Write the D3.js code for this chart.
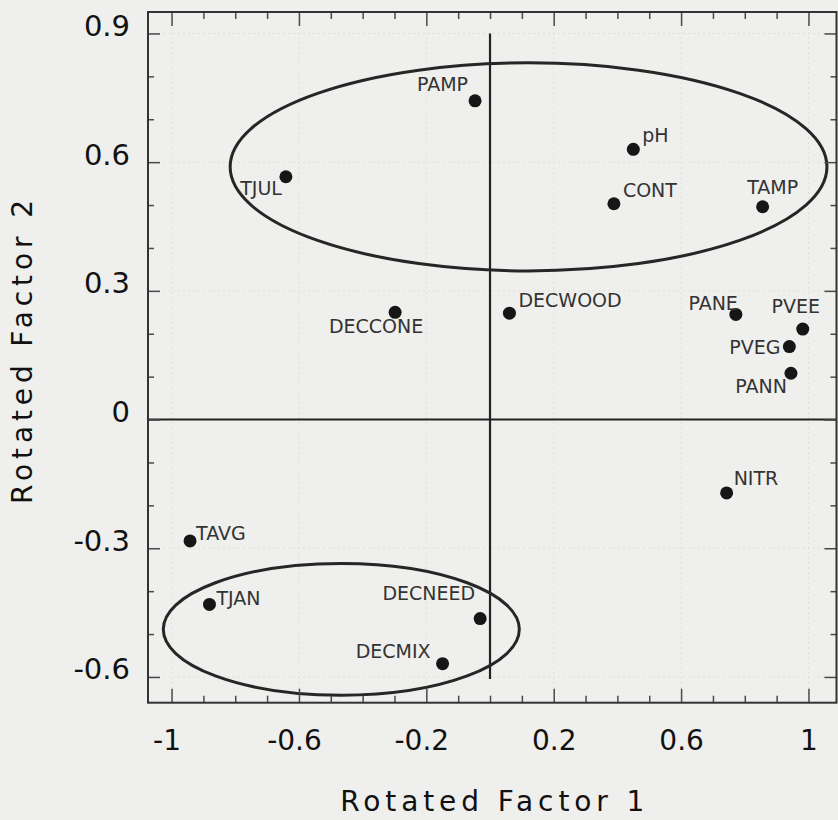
<!DOCTYPE html>
<html>
<head>
<meta charset="utf-8">
<script src="https://cdn.jsdelivr.net/npm/d3@7"></script>
<style>
  html, body { margin: 0; padding: 0; background: #efefed; }
  svg { display: block; }
</style>
</head>
<body>
<svg id="chart" width="838" height="820"></svg>
<script>
// Loadings of each variable on the two rotated factors
const variables = ["PAMP", "pH", "TJUL", "CONT", "TAMP", "DECCONE", "DECWOOD", "PANE",
                   "PVEE", "PVEG", "PANN", "NITR", "TAVG", "TJAN", "DECNEED", "DECMIX"];
const factor1 = [-0.047, 0.450, -0.641, 0.389, 0.856, -0.298, 0.061, 0.772,
                 0.982, 0.940, 0.945, 0.743, -0.942, -0.881, -0.031, -0.149];
const factor2 = [0.743, 0.630, 0.566, 0.503, 0.496, 0.250, 0.248, 0.245,
                 0.211, 0.170, 0.108, -0.171, -0.283, -0.431, -0.464, -0.569];

// Groups outlined by ellipses (centre and semi-axes, in factor units)
const groupCentreX = [0.121, -0.467];
const groupCentreY = [0.589, -0.489];
const groupRadiusX = [0.937, 0.559];
const groupRadiusY = [0.2425, 0.1536];

// Axis ticks
const xTickValues = [-1, -0.6, -0.2, 0.2, 0.6, 1];
const xTickLabels = ["-1", "-0.6", "-0.2", "0.2", "0.6", "1"];
const yTickValues = [0.9, 0.6, 0.3, 0, -0.3, -0.6];
const yTickLabels = ["0.9", "0.6", "0.3", "0", "-0.3", "-0.6"];

// Where each name sits around its point: [anchor, dx, dy]
const labelPlacement = {
  PAMP:    ["end",    -7, -10],
  pH:      ["start",   9,  -7],
  TJUL:    ["end",    -4,  18],
  CONT:    ["start",   9,  -7],
  TAMP:    ["middle", 10, -13],
  DECCONE: ["middle", -19, 21],
  DECWOOD: ["start",   9,  -6],
  PANE:    ["end",     2,  -4],
  PVEE:    ["middle", -7, -16],
  PVEG:    ["end",    -9,   7],
  PANN:    ["end",    -4,  20],
  NITR:    ["start",   7,  -8],
  TAVG:    ["start",   6,  -1],
  TJAN:    ["start",   7,   1],
  DECNEED: ["end",    -5, -19],
  DECMIX:  ["end",   -12,  -6]
};

const FONT = "'DejaVu Sans', Verdana, sans-serif";
const plotLeft = 148, plotRight = 836.5, plotTop = 12, plotBottom = 702.7;

const x = d3.scaleLinear().domain([-1.074, 1.088]).range([plotLeft, plotRight]);
const y = d3.scaleLinear().domain([-0.660, 0.950]).range([plotBottom, plotTop]);

const svg = d3.select("#chart");
svg.append("rect").attr("width", 838).attr("height", 820).attr("fill", "#efefed");

// faint grid at the labelled ticks
const grid = svg.append("g").attr("stroke", "#dfdfdc").attr("stroke-width", 1)
  .attr("stroke-dasharray", "2,3");
grid.selectAll("line.gx").data(xTickValues).join("line").attr("class", "gx")
  .attr("x1", d => x(d)).attr("x2", d => x(d)).attr("y1", plotTop).attr("y2", plotBottom);
grid.selectAll("line.gy").data(yTickValues.filter(d => d !== 0)).join("line").attr("class", "gy")
  .attr("y1", d => y(d)).attr("y2", d => y(d)).attr("x1", plotLeft).attr("x2", plotRight);

// zero reference lines
svg.append("line")
  .attr("x1", plotLeft).attr("x2", plotRight).attr("y1", y(0)).attr("y2", y(0))
  .attr("stroke", "#222").attr("stroke-width", 2);
svg.append("line")
  .attr("x1", x(0)).attr("x2", x(0)).attr("y1", y(0.9)).attr("y2", y(-0.605))
  .attr("stroke", "#222").attr("stroke-width", 2.2);

// group ellipses
svg.append("g").selectAll("ellipse").data(groupCentreX).join("ellipse")
  .attr("cx", (d, i) => x(groupCentreX[i]))
  .attr("cy", (d, i) => y(groupCentreY[i]))
  .attr("rx", (d, i) => x(groupCentreX[i] + groupRadiusX[i]) - x(groupCentreX[i]))
  .attr("ry", (d, i) => y(groupCentreY[i]) - y(groupCentreY[i] + groupRadiusY[i]))
  .attr("fill", "none").attr("stroke", "#262626").attr("stroke-width", 3);

// inward tick marks on all four sides
const xMinor = x.ticks(20).filter(d => !xTickValues.some(v => Math.abs(v - d) < 1e-9));
const yMinor = y.ticks(16).filter(d => !yTickValues.some(v => Math.abs(v - d) < 1e-9));
function tickLayer(axis, transform) {
  svg.append("g").attr("transform", transform).call(axis)
    .call(g => g.select(".domain").remove())
    .call(g => g.selectAll(".tick line").attr("stroke", "#4a4a4a").attr("stroke-width", 1.5));
}
tickLayer(d3.axisBottom(x).tickValues(xMinor).tickSize(-7).tickFormat(""), `translate(0,${plotBottom})`);
tickLayer(d3.axisBottom(x).tickValues(xTickValues).tickSize(-14).tickFormat(""), `translate(0,${plotBottom})`);
tickLayer(d3.axisTop(x).tickValues(xMinor).tickSize(-7).tickFormat(""), `translate(0,${plotTop})`);
tickLayer(d3.axisTop(x).tickValues(xTickValues).tickSize(-14).tickFormat(""), `translate(0,${plotTop})`);
tickLayer(d3.axisLeft(y).tickValues(yMinor).tickSize(-6).tickFormat(""), `translate(${plotLeft},0)`);
tickLayer(d3.axisLeft(y).tickValues(yTickValues).tickSize(-12).tickFormat(""), `translate(${plotLeft},0)`);
tickLayer(d3.axisRight(y).tickValues(yMinor).tickSize(-6).tickFormat(""), `translate(${plotRight},0)`);
tickLayer(d3.axisRight(y).tickValues(yTickValues).tickSize(-12).tickFormat(""), `translate(${plotRight},0)`);

// frame
svg.append("rect")
  .attr("x", plotLeft).attr("y", plotTop)
  .attr("width", plotRight - plotLeft).attr("height", plotBottom - plotTop)
  .attr("fill", "none").attr("stroke", "#333").attr("stroke-width", 2);

// tick labels
svg.append("g").attr("transform", `translate(0,${plotBottom})`)
  .call(d3.axisBottom(x).tickValues(xTickValues).tickFormat((d, i) => xTickLabels[i])
    .tickSize(0).tickPadding(27))
  .call(g => g.select(".domain").remove())
  .call(g => g.selectAll("text").attr("font-family", FONT).attr("font-size", 28).attr("fill", "#111")
    .attr("dx", d => d < 0 ? -5 : 0));
svg.append("g").attr("transform", `translate(${plotLeft},0)`)
  .call(d3.axisLeft(y).tickValues(yTickValues).tickFormat((d, i) => yTickLabels[i])
    .tickSize(0).tickPadding(18))
  .call(g => g.select(".domain").remove())
  .call(g => g.selectAll("text").attr("font-family", FONT).attr("font-size", 29).attr("fill", "#111")
    .attr("dy", "0.07em"));

// axis titles
svg.append("text")
  .attr("x", (plotLeft + plotRight) / 2).attr("y", 811)
  .attr("text-anchor", "middle").attr("font-family", FONT).attr("font-size", 28)
  .attr("fill", "#111").attr("textLength", 304).attr("lengthAdjust", "spacing")
  .text("Rotated Factor 1");
svg.append("text")
  .attr("transform", "translate(32,352) rotate(-90)")
  .attr("text-anchor", "middle").attr("font-family", FONT).attr("font-size", 28)
  .attr("fill", "#111").attr("textLength", 304).attr("lengthAdjust", "spacing")
  .text("Rotated Factor 2");

// points and their names
const pts = svg.append("g").selectAll("g").data(variables).join("g");
pts.append("circle")
  .attr("cx", (d, i) => x(factor1[i])).attr("cy", (d, i) => y(factor2[i]))
  .attr("r", 6.5).attr("fill", "#161616");
pts.append("text")
  .attr("x", (d, i) => x(factor1[i]) + labelPlacement[d][1])
  .attr("y", (d, i) => y(factor2[i]) + labelPlacement[d][2])
  .attr("text-anchor", d => labelPlacement[d][0])
  .attr("font-family", FONT).attr("font-size", 19).attr("fill", "#333")
  .text(d => d);
</script>
</body>
</html>
